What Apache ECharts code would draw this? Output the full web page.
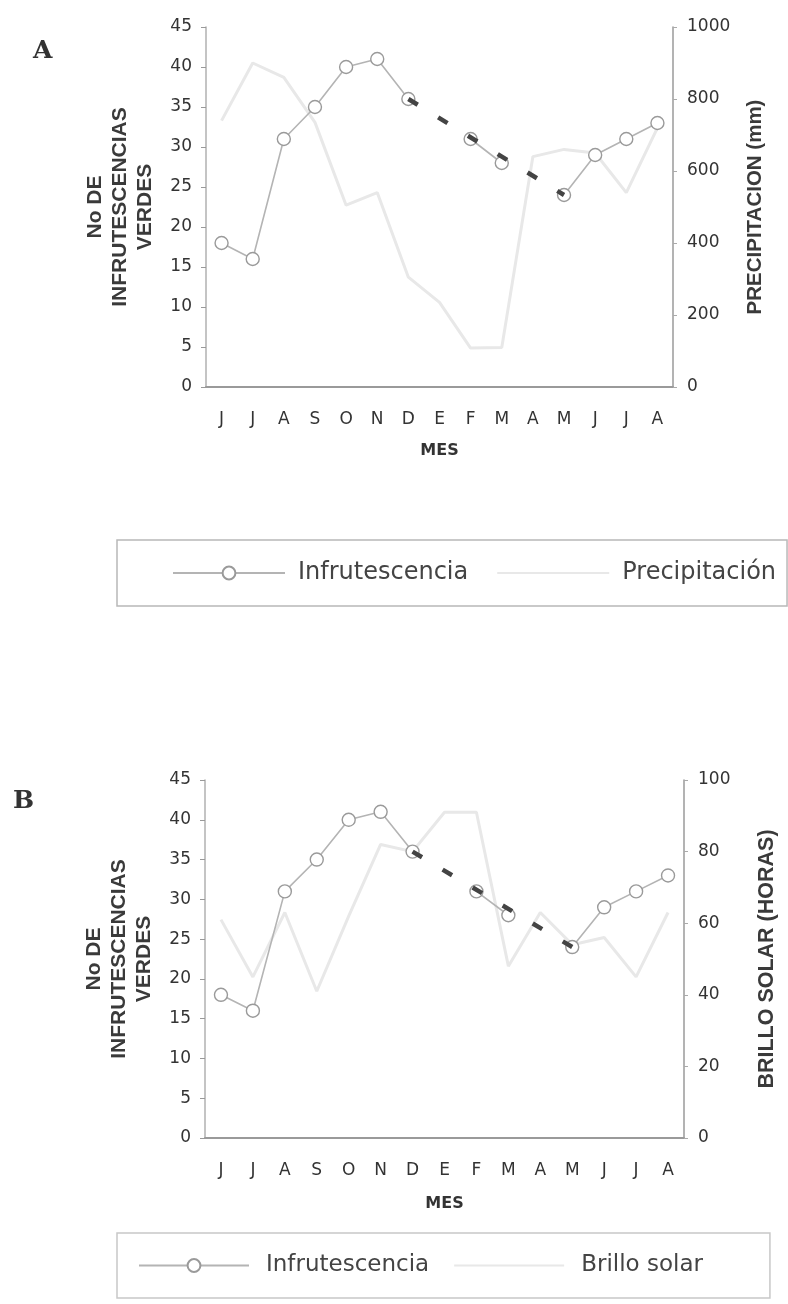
<!DOCTYPE html>
<html>
<head>
<meta charset="utf-8">
<script src="https://cdn.jsdelivr.net/npm/echarts@6/dist/echarts.min.js"></script>
<style>
html,body{margin:0;padding:0;background:#fff;}
#chart{width:788px;height:1304px;}
</style>
</head>
<body>
<div id="chart"></div>
<script>
// ---- data ----
const months = ['J','J','A','S','O','N','D','E','F','M','A','M','J','J','A'];
const infrutescencia = [18,16,31,35,40,41,36,null,31,28,null,24,29,31,33];
const tendencia = [null,null,null,null,null,null,36,null,null,null,null,24,null,null,null];
const precipitacion = [740,900,860,735,505,540,305,235,108,110,640,660,650,540,720];
const brillo = [61,45,63,41,62,82,80,91,91,48,63,54,56,45,63];
const leftTicks = {min:0, max:45, interval:5};
const precTicks = {min:0, max:1000, interval:200};
const brilloTicks = {min:0, max:100, interval:20};

const chart = echarts.init(document.getElementById('chart'), null, {renderer:'canvas'});
const FONT = 'DejaVu Sans';
const TFONT = 'Liberation Sans';
const labelColor = '#333';

function xAxis(gridIndex, gap){
  return {
    type:'category', gridIndex, data:months, boundaryGap:true,
    axisLine:{show:true, lineStyle:{color:'#9a9a9a', width:2}},
    axisTick:{show:false},
    axisLabel:{color:labelColor, fontFamily:FONT, fontSize:17, margin:24},
    name:'MES', nameLocation:'middle', nameGap:gap,
    nameTextStyle:{color:'#333', fontFamily:FONT, fontWeight:'bold', fontSize:16}
  };
}
function leftAxis(gridIndex){
  return {
    type:'value', gridIndex, position:'left', min:leftTicks.min, max:leftTicks.max, interval:leftTicks.interval,
    splitLine:{show:false},
    axisLine:{show:true, lineStyle:{color:'#b0b0b0', width:1.5}},
    axisTick:{show:true, length:5, lineStyle:{color:'#999'}},
    axisLabel:{color:labelColor, fontFamily:FONT, fontSize:17, margin:14},
    name:'No DE\nINFRUTESCENCIAS\nVERDES', nameLocation:'middle', nameRotate:90, nameGap:48,
    nameTextStyle:{color:'#3a3a3a', fontFamily:TFONT, fontWeight:'bold', fontSize:21, lineHeight:25, align:'center'}
  };
}
function rightAxis(gridIndex, ticks, name, size){
  return {
    type:'value', gridIndex, position:'right', min:ticks.min, max:ticks.max, interval:ticks.interval,
    splitLine:{show:false},
    axisLine:{show:true, lineStyle:{color:'#9a9a9a', width:1.5}},
    axisTick:{show:true, length:4, lineStyle:{color:'#aaa'}},
    axisLabel:{color:labelColor, fontFamily:FONT, fontSize:17, margin:14, formatter:(v)=>String(v)},
    name, nameLocation:'middle', nameRotate:90, nameGap:72,
    nameTextStyle:{color:'#3a3a3a', fontFamily:TFONT, fontWeight:'bold', fontSize:size}
  };
}
const infStyle = {
  type:'line', name:'Infrutescencia', symbol:'circle', symbolSize:13, showSymbol:true,
  lineStyle:{color:'#b4b4b4', width:1.6},
  itemStyle:{color:'#ffffff', borderColor:'#9a9a9a', borderWidth:1.4},
  connectNulls:false, z:5
};
const trendStyle = {
  type:'line', name:'Tendencia', symbol:'none', connectNulls:true,
  lineStyle:{color:'#444', width:4.5, type:[11,24], dashOffset:0}, z:6
};

const option = {
  backgroundColor:'#ffffff',
  animation:false,
  title:[
    {text:'A', left:28, top:34, textStyle:{fontFamily:'DejaVu Serif', fontWeight:'bold', fontSize:25, color:'#333'}},
    {text:'B', left:8, top:784, textStyle:{fontFamily:'DejaVu Serif', fontWeight:'bold', fontSize:25, color:'#333'}}
  ],
  grid:[
    {left:206, top:27, width:467, height:360},
    {left:205, top:780, width:479, height:358}
  ],
  xAxis:[xAxis(0, 56), xAxis(1, 58)],
  yAxis:[leftAxis(0), rightAxis(0, precTicks, 'PRECIPITACION (mm)', 20.5), leftAxis(1), rightAxis(1, brilloTicks, 'BRILLO SOLAR (HORAS)', 21.5)],
  legend:[
    {
      left:117, top:540, orient:'horizontal',
      data:['Infrutescencia', {name:'Precipitación', itemStyle:{opacity:0}}],
      itemWidth:112, itemHeight:16, itemGap:28,
      padding:[21,11,21,55],
      borderColor:'#b8b8b8', borderWidth:1.5,
      textStyle:{color:'#444', fontFamily:FONT, fontSize:24, padding:[0,0,0,8]},
      selectedMode:false
    },
    {
      left:117, top:1233, orient:'horizontal',
      data:['Infrutescencia', {name:'Brillo solar', itemStyle:{opacity:0}}],
      itemWidth:110, itemHeight:16, itemGap:24,
      padding:[21,67,21,21],
      borderColor:'#c8c8c8', borderWidth:1.5,
      textStyle:{color:'#444', fontFamily:FONT, fontSize:23, padding:[0,0,0,12]},
      selectedMode:false
    }
  ],
  series:[
    Object.assign({}, infStyle, {xAxisIndex:0, yAxisIndex:0, data:infrutescencia}),
    Object.assign({}, trendStyle, {xAxisIndex:0, yAxisIndex:0, data:tendencia}),
    {type:'line', name:'Precipitación', xAxisIndex:0, yAxisIndex:1, data:precipitacion, symbol:'none',
     lineStyle:{color:'#e8e8e8', width:3}, itemStyle:{color:'#e8e8e8'}, z:2},
    Object.assign({}, infStyle, {xAxisIndex:1, yAxisIndex:2, data:infrutescencia}),
    Object.assign({}, trendStyle, {xAxisIndex:1, yAxisIndex:2, data:tendencia}),
    {type:'line', name:'Brillo solar', xAxisIndex:1, yAxisIndex:3, data:brillo, symbol:'none',
     lineStyle:{color:'#e8e8e8', width:3}, itemStyle:{color:'#e8e8e8'}, z:2}
  ]
};
chart.setOption(option);
</script>
</body>
</html>
